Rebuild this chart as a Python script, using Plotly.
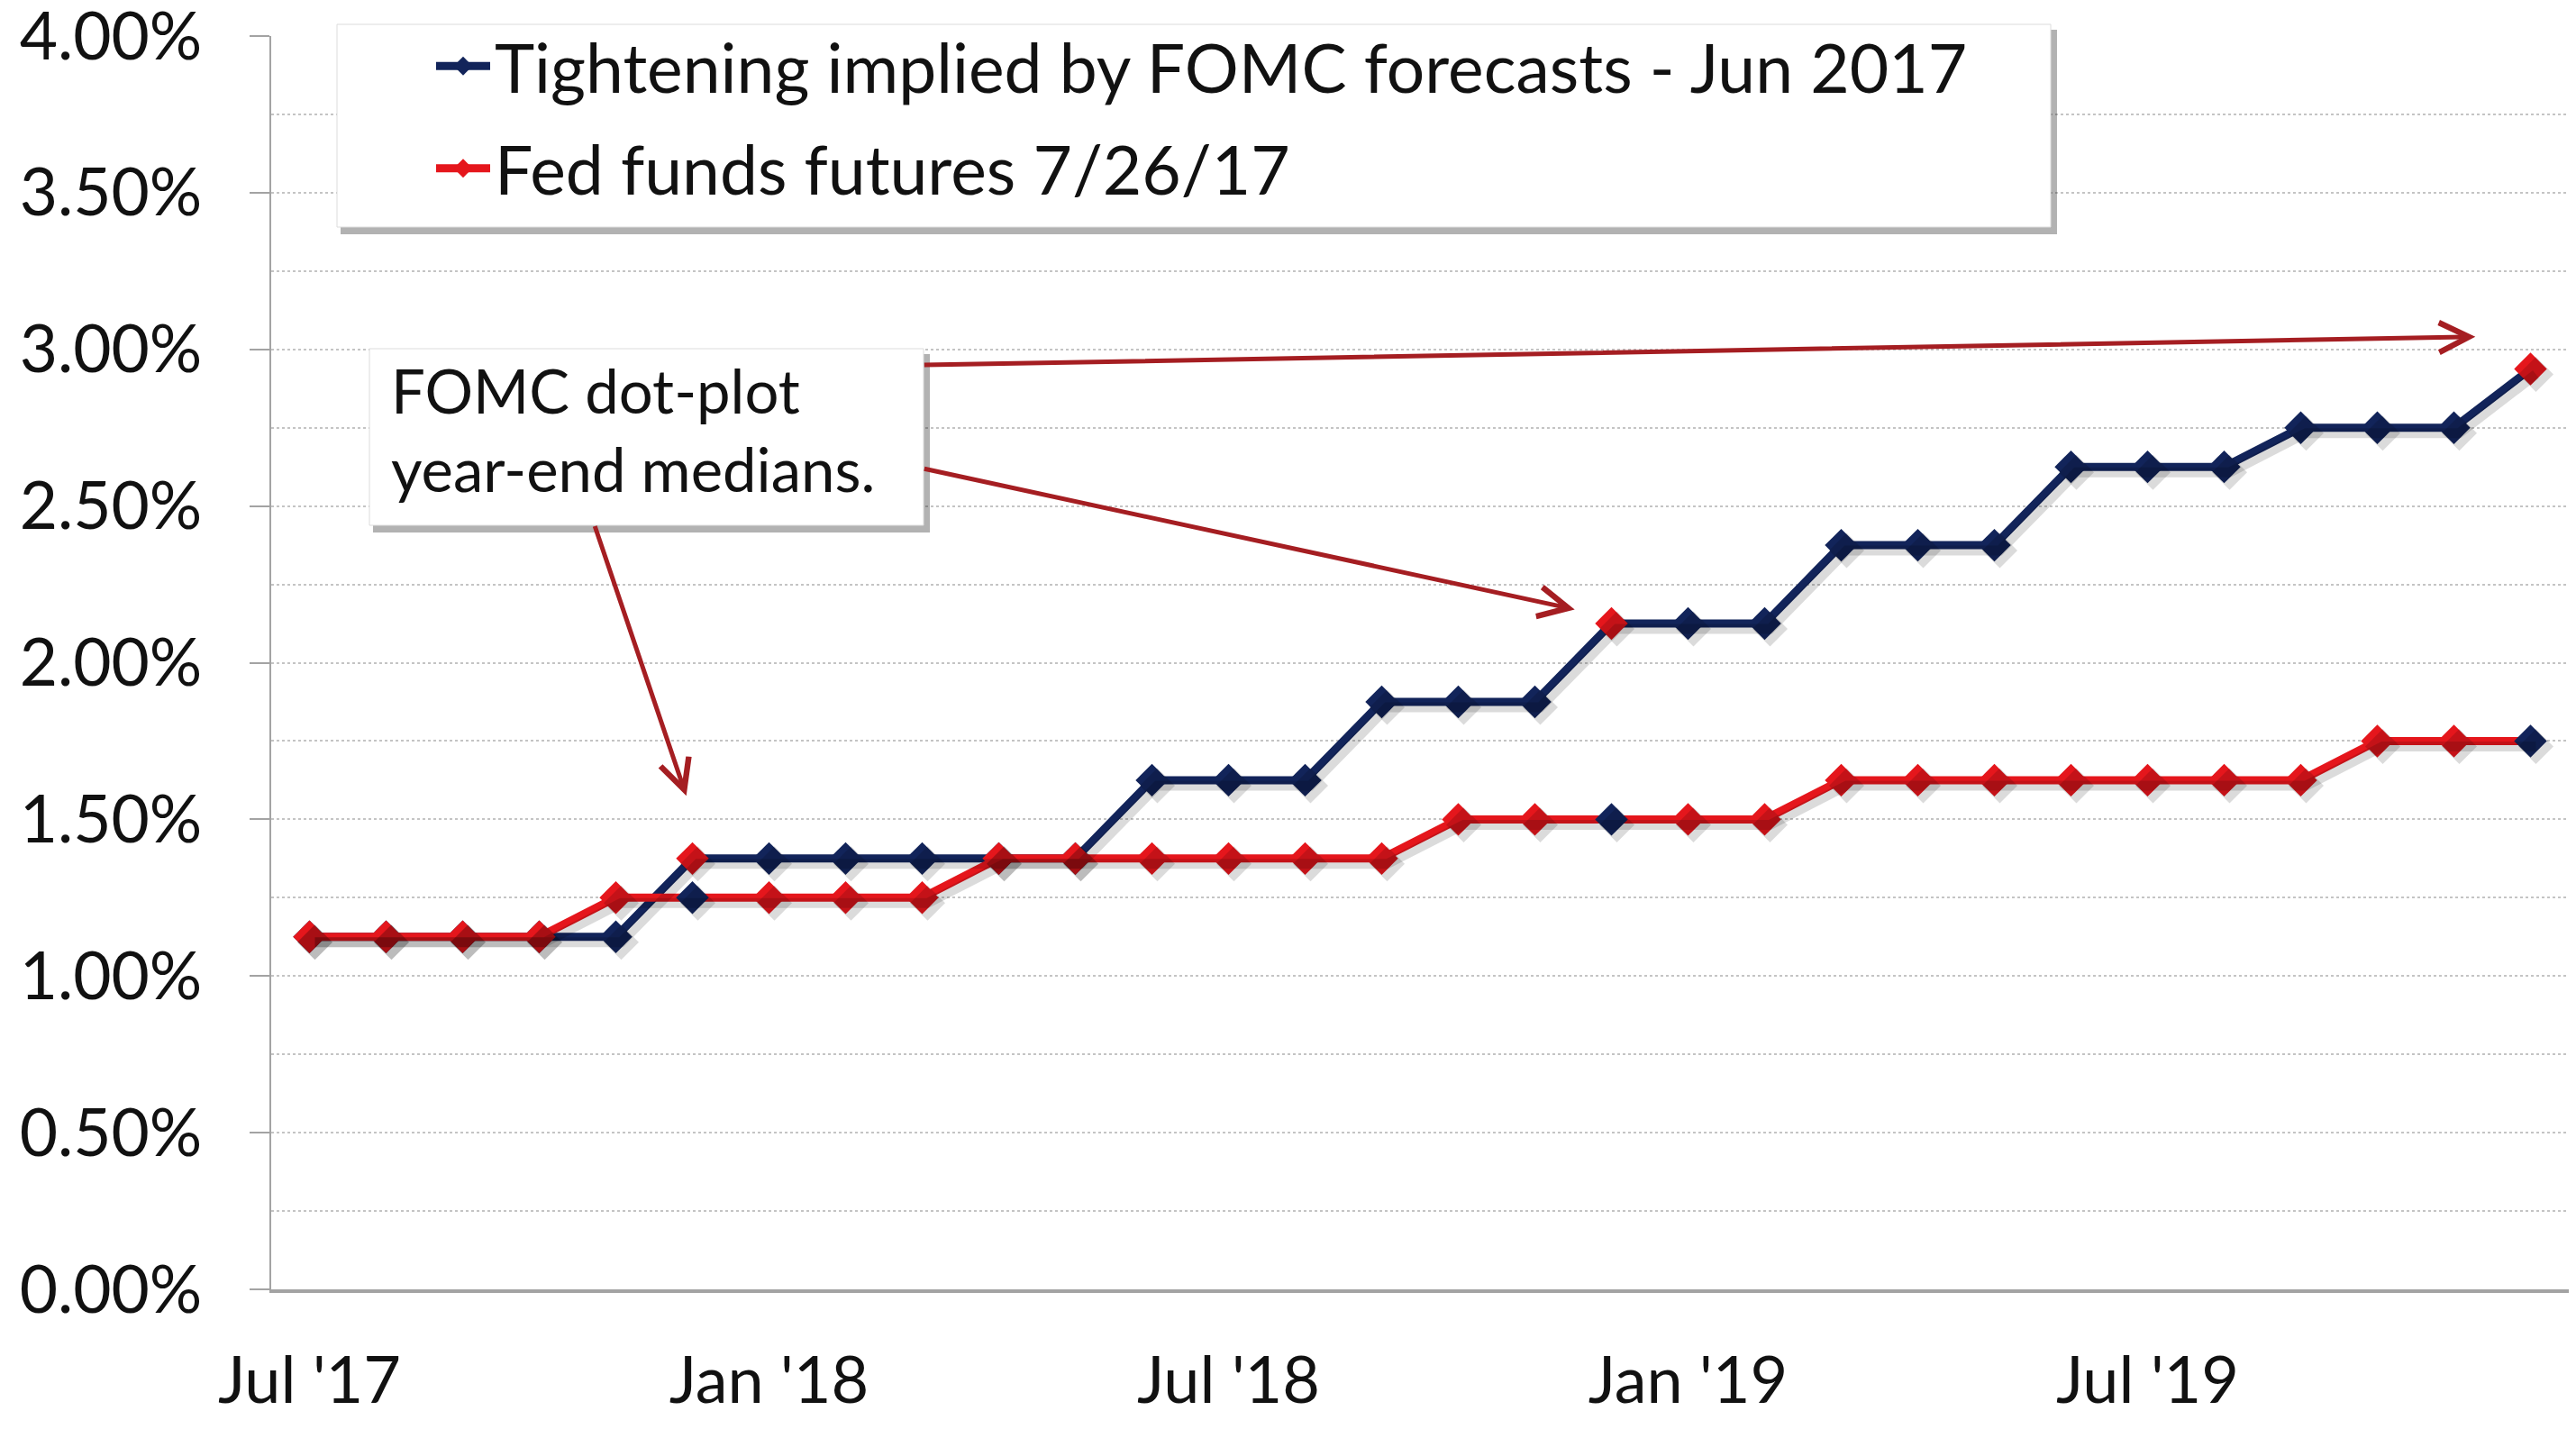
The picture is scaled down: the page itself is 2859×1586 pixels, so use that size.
import plotly.graph_objects as go

# ---------------- data ----------------
months = ["Jul 2017", "Aug 2017", "Sep 2017", "Oct 2017", "Nov 2017", "Dec 2017",
          "Jan 2018", "Feb 2018", "Mar 2018", "Apr 2018", "May 2018", "Jun 2018",
          "Jul 2018", "Aug 2018", "Sep 2018", "Oct 2018", "Nov 2018", "Dec 2018",
          "Jan 2019", "Feb 2019", "Mar 2019", "Apr 2019", "May 2019", "Jun 2019",
          "Jul 2019", "Aug 2019", "Sep 2019", "Oct 2019", "Nov 2019", "Dec 2019"]

fomc_implied = [1.125, 1.125, 1.125, 1.125, 1.125, 1.375,
                1.375, 1.375, 1.375, 1.375, 1.375, 1.625,
                1.625, 1.625, 1.875, 1.875, 1.875, 2.125,
                2.125, 2.125, 2.375, 2.375, 2.375, 2.625,
                2.625, 2.625, 2.75, 2.75, 2.75, 2.9375]

fed_funds_futures = [1.125, 1.125, 1.125, 1.125, 1.25, 1.25,
                     1.25, 1.25, 1.25, 1.375, 1.375, 1.375,
                     1.375, 1.375, 1.375, 1.5, 1.5, 1.5,
                     1.5, 1.5, 1.625, 1.625, 1.625, 1.625,
                     1.625, 1.625, 1.625, 1.75, 1.75, 1.75]

year_end_months = ["Dec 2017", "Dec 2018", "Dec 2019"]

tick_months = ["Jul 2017", "Jan 2018", "Jul 2018", "Jan 2019", "Jul 2019"]
tick_labels = ["Jul '17", "Jan '18", "Jul '18", "Jan '19", "Jul '19"]

y_tick_vals = [0, 0.5, 1.0, 1.5, 2.0, 2.5, 3.0, 3.5, 4.0]
y_tick_labels = ["0.00%", "0.50%", "1.00%", "1.50%", "2.00%", "2.50%", "3.00%", "3.50%", "4.00%"]

series_names = ["Tightening implied by FOMC forecasts - Jun 2017", "Fed funds futures 7/26/17"]
note_text = "FOMC dot-plot<br>year-end medians."

# ---------------- style ----------------
NAVY = "#12245A"
RED = "#E5161C"
ARROW = "#A51E22"
GRID = "#c4c4c4"
AXIS = "#a3a3a3"
TEXT = "#111111"
FONT = "Lato"

PAGE_W, PAGE_H = 2859, 1586
OFF = 8  # browser body margin
W, H = PAGE_W - 2 * OFF, PAGE_H - 2 * OFF
ML, MR, MT = 293, 0, 32
MB = H - (1431 - OFF)
PW, PH = W - ML - MR, H - MT - MB


def px(xpage):
    return (xpage - OFF - ML) / PW


def py(ypage):
    return (H - MB - (ypage - OFF)) / PH


n = len(months)
blue_marker = [RED if m in year_end_months else NAVY for m in months]
red_marker = [NAVY if m in year_end_months else RED for m in months]

fig = go.Figure()

# soft drop shadows (same data drawn on slightly offset axes)
for vals in (fomc_implied, fed_funds_futures):
    fig.add_trace(go.Scatter(
        x=months, y=vals, mode="lines+markers", xaxis="x3", yaxis="y3",
        line=dict(color="rgba(0,0,0,0.14)", width=11),
        marker=dict(symbol="diamond", size=30, color="rgba(0,0,0,0.14)"),
        showlegend=False, hoverinfo="skip"))

fig.add_trace(go.Scatter(
    x=months, y=fomc_implied, mode="lines+markers", name=series_names[0],
    legendgroup="a",
    line=dict(color=NAVY, width=9),
    marker=dict(symbol="diamond", size=28, color=blue_marker)))

fig.add_trace(go.Scatter(
    x=months, y=fed_funds_futures, mode="lines+markers", name=series_names[1],
    legendgroup="b",
    line=dict(color=RED, width=9),
    marker=dict(symbol="diamond", size=28, color=red_marker)))

dx = 6 / (PW / n)
dy = 6 / (PH / 4)

fig.update_layout(
    width=W, height=H,
    margin=dict(l=ML, r=MR, t=MT, b=MB, pad=0, autoexpand=False),
    paper_bgcolor="white", plot_bgcolor="white",
    font=dict(family=FONT, color=TEXT, size=70),
    showlegend=True,
    legend=dict(
        x=px(479), y=py(18), xanchor="left", yanchor="top",
        bgcolor="rgba(0,0,0,0)", borderwidth=0,
        font=dict(family=FONT, size=75, color=TEXT),
        traceorder="grouped", tracegroupgap=13,
        itemwidth=60,
    ),
    xaxis=dict(
        type="category", categoryarray=months, range=[-0.5, n - 0.5],
        tickmode="array", tickvals=tick_months, ticktext=tick_labels,
        ticks="", showgrid=False, zeroline=False,
        showline=True, linecolor=AXIS, linewidth=4,
        tickfont=dict(family=FONT, size=72, color=TEXT),
        ticklabelstandoff=36,
    ),
    xaxis2=dict(
        overlaying="x", anchor="y", side="bottom", type="linear",
        range=[-0.5, n - 0.5],
        tickmode="array", tickvals=[-0.5, 5.5, 11.5, 17.5, 23.5, 29.5],
        ticks="outside", ticklen=30, tickwidth=2, tickcolor=AXIS,
        showticklabels=False, showgrid=False, zeroline=False, showline=False,
    ),
    xaxis3=dict(
        overlaying="x", anchor="y3", type="category", categoryarray=months,
        range=[-0.5 - dx, n - 0.5 - dx], visible=False,
    ),
    yaxis=dict(
        range=[0, 4], tickmode="array", tickvals=y_tick_vals, ticktext=y_tick_labels,
        ticks="outside", ticklen=22, tickwidth=2, tickcolor=AXIS,
        showline=True, linecolor=AXIS, linewidth=2,
        showgrid=True, gridcolor=GRID, gridwidth=2, griddash="dot",
        minor=dict(dtick=0.25, showgrid=True, gridcolor=GRID, gridwidth=2, griddash="dot", ticks=""),
        zeroline=False,
        tickfont=dict(family=FONT, size=73, color=TEXT),
        ticklabelstandoff=38,
        ticklabeloverflow="allow",
    ),
    yaxis3=dict(
        overlaying="y", anchor="x3", range=[0 + dy, 4 + dy], visible=False,
    ),
)

# legend box and note box (with shadows)
shapes = []
for (x0, y0, x1, y1) in [(374, 27, 2276, 252), (410, 387, 1025, 583)]:
    shapes.append(dict(type="rect", xref="paper", yref="paper",
                       x0=px(x0 + 4), x1=px(x1 + 7), y0=py(y1 + 8), y1=py(y0 + 6),
                       fillcolor="rgba(0,0,0,0.30)", line=dict(width=0), layer="above"))
    shapes.append(dict(type="rect", xref="paper", yref="paper",
                       x0=px(x0), x1=px(x1), y0=py(y1), y1=py(y0),
                       fillcolor="white", line=dict(color="#dcdcdc", width=1), layer="above"))
fig.update_layout(shapes=shapes)

annotations = [
    dict(xref="paper", yref="paper", x=px(432), y=py(476), xanchor="left", yanchor="middle",
         text=note_text, align="left", showarrow=False,
         font=dict(family=FONT, size=67, color=TEXT)),
]
# arrows from the note box to the year-end medians
arrow_specs = [
    (4.92, 1.575, 3.72, 2.44),
    (16.52, 2.17, 8.01, 2.62),
    (28.28, 3.04, 8.01, 2.95),
]
for (hx, hy, tx, ty) in arrow_specs:
    annotations.append(dict(
        x=hx, y=hy, ax=tx, ay=ty, xref="x", yref="y", axref="x", ayref="y",
        text="", showarrow=True, arrowhead=5, arrowsize=1.3, arrowwidth=5,
        arrowcolor=ARROW, standoff=0, startstandoff=0))
fig.update_layout(annotations=annotations)

fig.write_html("out.html")
